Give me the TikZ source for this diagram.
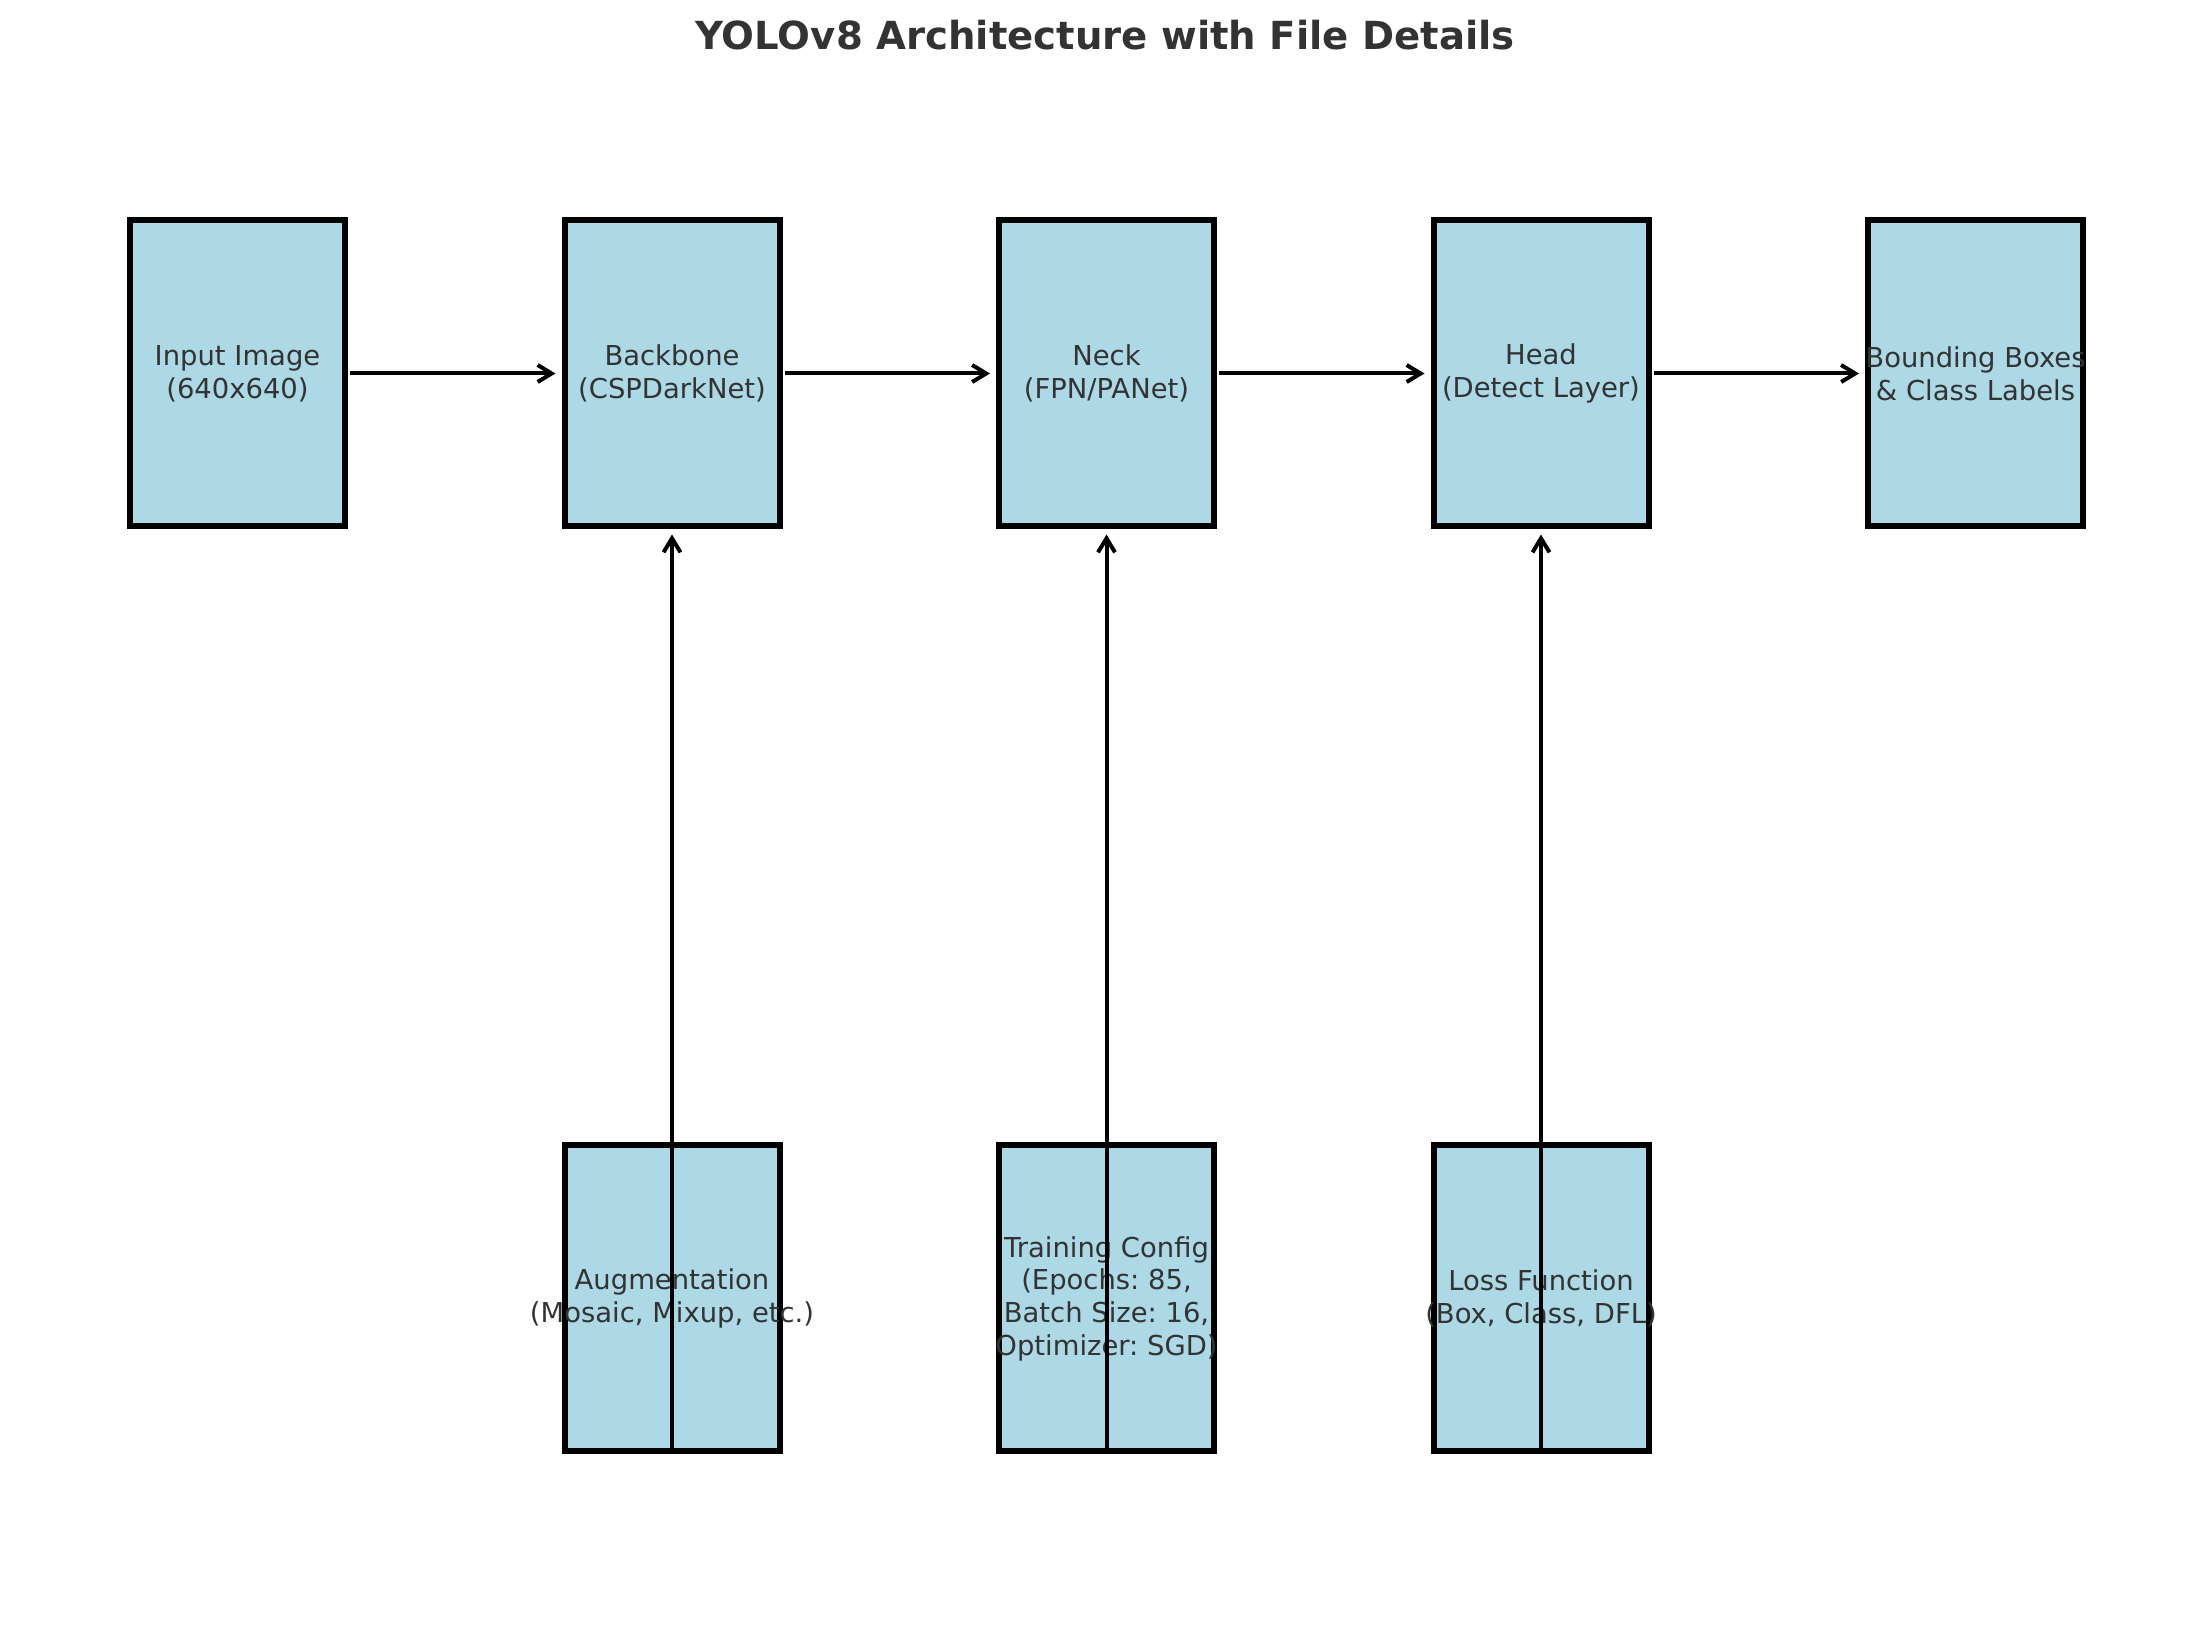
\documentclass[tikz,border=0pt]{standalone}
\usepackage{fontspec}
\setmainfont{DejaVu Sans}
\usepackage{xcolor}
\usepackage{tikz}
\usetikzlibrary{positioning, arrows.meta}
\frenchspacing

\definecolor{boxblue}{RGB}{173,216,230}
\definecolor{textgray}{RGB}{51,51,51}

\begin{document}
\begin{tikzpicture}[
  x=0.1mm, y=0.1mm,
  node distance=61.3mm and 21.35mm,
  block/.style={rectangle, draw=black, fill=boxblue, line width=0.6mm,
                minimum width=21.5mm, minimum height=30.6mm, inner sep=0pt},
  txt/.style={font=\fontsize{7.8}{9.3}\selectfont, text=textgray,
              align=center, inner sep=0pt},
  arr/.style={-{Straight Barb[length=1.4mm, width=1.7mm]}, line width=0.4mm,
              shorten >=0.6mm, shorten <=0.2mm},
  uparr/.style={arr, shorten >=0.5mm, shorten <=0.6mm}
]
\useasboundingbox (0,0) rectangle (2210,1626);

\node[font=\fontsize{11}{13}\selectfont\bfseries, text=textgray] (title) at (1105,1591)
  {YOLOv8 Architecture with File Details};

% main pipeline
\node[block, label={[txt]center:{Input Image\\(640x640)}}] (input) at (237.5,1252.5) {};
\node[block, right=of input, label={[txt]center:{Backbone\\(CSPDarkNet)}}] (backbone) {};
\node[block, right=of backbone, label={[txt]center:{Neck\\(FPN/PANet)}}] (neck) {};
\node[block, right=of neck, label={[txt]center:{Head\\(Detect Layer)}}] (head) {};
\node[block, right=of head, label={[txt]center:{Bounding Boxes\\\& Class Labels}}] (output) {};

% file details
\node[block, below=of backbone, label={[txt]center:{Augmentation\\(Mosaic, Mixup, etc.)}}] (aug) {};
\node[block, below=of neck, label={[txt]center:{Training Config\\(Epochs: 85,\\Batch Size: 16,\\Optimizer: SGD)}}] (train) {};
\node[block, below=of head, label={[txt]center:{Loss Function\\(Box, Class, DFL)}}] (loss) {};

\draw[arr] (input) -- (backbone);
\draw[arr] (backbone) -- (neck);
\draw[arr] (neck) -- (head);
\draw[arr] (head) -- (output);

\draw[uparr] (aug.south) -- (backbone.south);
\draw[uparr] (train.south) -- (neck.south);
\draw[uparr] (loss.south) -- (head.south);
\end{tikzpicture}
\end{document}
